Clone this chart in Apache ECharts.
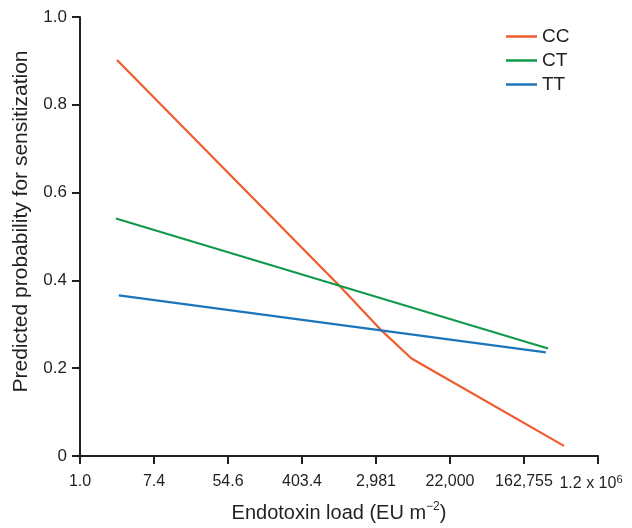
<!DOCTYPE html>
<html>
<head>
<meta charset="utf-8">
<script src="https://cdn.jsdelivr.net/npm/echarts@6/dist/echarts.min.js"></script>
<style>
  html, body { margin: 0; padding: 0; background: #fff; }
  #chart { width: 632px; height: 528px; }
</style>
</head>
<body>
<div id="chart"></div>
<script>
// x values are ln(endotoxin load); ticks at e^0, e^2, ... e^14
var tickLabels = ['1.0', '7.4', '54.6', '403.4', '2,981', '22,000', '162,755', '1.2 x 10'];
var ccData = [[1.0, 0.902], [7.03, 0.386], [8.16, 0.285], [8.96, 0.222], [13.08, 0.023]];
var ctData = [[0.97, 0.541], [12.65, 0.245]];
var ttData = [[1.05, 0.366], [12.59, 0.236]];

var textColor = '#231f20';
var font = 'Liberation Sans, Arial, sans-serif';

var chart = echarts.init(document.getElementById('chart'));

function mkLine(name, data, color) {
  return {
    name: name,
    type: 'line',
    data: data,
    symbol: 'none',
    lineStyle: { color: color, width: 2.2 },
    itemStyle: { color: color }
  };
}

chart.setOption({
  animation: false,
  textStyle: { fontFamily: font, color: textColor },
  grid: { left: 80, right: 34, top: 17, bottom: 71, containLabel: false },
  legend: {
    orient: 'vertical',
    left: 501,
    top: 22,
    icon: 'rect',
    itemWidth: 31,
    itemHeight: 2.5,
    itemGap: 5,
    textStyle: { fontSize: 19, color: textColor, fontFamily: font },
    data: ['CC', 'CT', 'TT']
  },
  xAxis: {
    type: 'value',
    min: 0,
    max: 14,
    interval: 2,
    name: '{a|Endotoxin load (EU m}{s|−2}{a|)}',
    nameLocation: 'middle',
    nameGap: 45,
    nameTextStyle: {
      rich: {
        a: { fontSize: 20, color: textColor, fontFamily: font },
        s: { fontSize: 12, color: textColor, fontFamily: font, padding: [0, 0, 12, 0] }
      }
    },
    splitLine: { show: false },
    axisLine: { lineStyle: { color: textColor, width: 2 } },
    axisTick: { show: true, length: 8, lineStyle: { color: textColor, width: 2 } },
    axisLabel: {
      margin: 18,
      fontSize: 16,
      color: textColor,
      formatter: function (v) {
        var i = Math.round(v / 2);
        if (i === 7) return '{b|' + tickLabels[i] + '}{s|6}';
        return tickLabels[i];
      },
      rich: {
        b: { fontSize: 16, color: textColor, fontFamily: font },
        s: { fontSize: 11, color: textColor, fontFamily: font, padding: [0, 14, 9, 0] }
      }
    }
  },
  yAxis: {
    type: 'value',
    min: 0,
    max: 1,
    interval: 0.2,
    name: 'Predicted probability for sensitization',
    nameLocation: 'middle',
    nameGap: 48,
    nameTextStyle: { fontSize: 21, color: textColor, fontFamily: font, padding: [0, 0, 0, 30] },
    splitLine: { show: false },
    axisLine: { show: true, lineStyle: { color: textColor, width: 2 } },
    axisTick: { show: true, length: 8, lineStyle: { color: textColor, width: 2 } },
    axisLabel: {
      margin: 13,
      fontSize: 17,
      color: textColor,
      formatter: function (v) { return v === 0 ? '0' : v.toFixed(1); }
    }
  },
  series: [
    mkLine('CC', ccData, '#f15a2b'),
    mkLine('CT', ctData, '#11994a'),
    mkLine('TT', ttData, '#1b75bb')
  ]
});
</script>
</body>
</html>
